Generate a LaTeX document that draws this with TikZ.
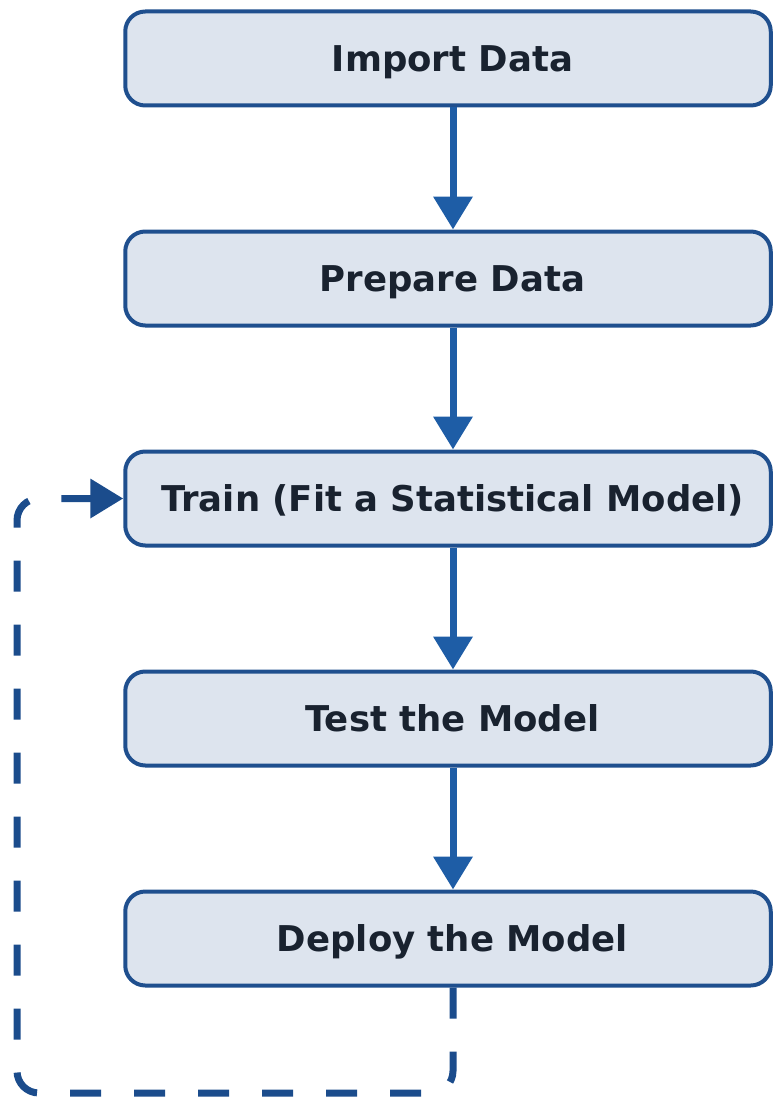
\documentclass[tikz,border=0pt]{standalone}
\usepackage{fontspec}
\setmainfont{DejaVu Sans}
\usetikzlibrary{arrows.meta}
\definecolor{boxline}{HTML}{1F4F8E}
\definecolor{boxfill}{HTML}{DDE4EE}
\definecolor{flowblue}{HTML}{1E5DA6}
\definecolor{loopblue}{HTML}{1B4C8C}
\definecolor{labeltext}{HTML}{19222F}

\begin{document}
\begin{tikzpicture}[x=1pt, y=-1pt, >={Triangle[width=38pt,length=33pt]},
    stage/.style={draw=boxline, fill=boxfill, line width=4pt, rounded corners=20pt,
      minimum width=645.5pt, minimum height=94pt, text=labeltext, text depth=0pt,
      font=\fontsize{35.5}{40}\selectfont\bfseries, execute at begin node=\hspace*{9pt}},
    flow/.style={->, draw=flowblue, line width=7pt}]
		\useasboundingbox (0,0) rectangle (775,1097);
		\def\xc{448}\def\yt{58.5}\def\dy{220}
		\node[stage] (import)  at (\xc,\yt)         {Import Data};
		\node[stage] (prepare) at (\xc,\yt+\dy)     {Prepare Data};
		\node[stage] (train)   at (\xc,\yt+2*\dy)   {Train (Fit a Statistical Model)};
		\node[stage] (test)    at (\xc,\yt+3*\dy)   {Test the Model};
		\node[stage] (deploy)  at (\xc,\yt+4*\dy)   {Deploy the Model};
		% main flow
		\foreach \a/\b in {import/prepare, prepare/train, train/test, test/deploy}
			\draw[flow] ([xshift=5pt]\a.south) -- ([xshift=5pt]\b.north);
		% feedback loop back to training
		\coordinate (loopbr) at (453,1093);
		\coordinate (loopbl) at (17,1093);
		\coordinate (looptl) at (17,498.5);
		\draw[flow, draw=loopblue, dash pattern=on 31pt off 33pt, rounded corners=22pt]
			([xshift=5pt]deploy.south) -- (loopbr) -- (loopbl) -- (looptl) -- (train.west);
	\end{tikzpicture}
\end{document}
